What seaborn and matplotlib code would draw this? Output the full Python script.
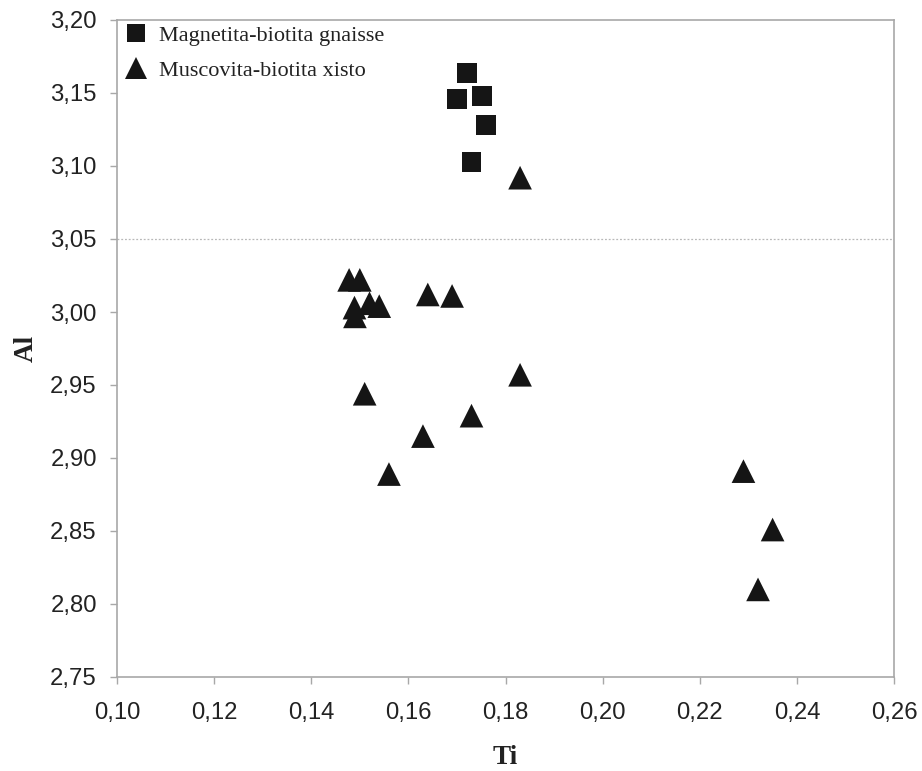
import matplotlib
matplotlib.use("Agg")
import matplotlib.pyplot as plt
from matplotlib.ticker import FuncFormatter, MultipleLocator
from matplotlib.lines import Line2D
import seaborn as sns
import pandas as pd

# Data
gnaisse_ti = [0.172, 0.170, 0.1752, 0.176, 0.173]
gnaisse_al = [3.164, 3.146, 3.148, 3.128, 3.103]

xisto_ti = [0.183, 0.1478, 0.150, 0.1489, 0.149, 0.152, 0.154, 0.164, 0.169,
            0.183, 0.151, 0.173, 0.163, 0.156, 0.229, 0.235, 0.232]
xisto_al = [3.092, 3.022, 3.022, 3.003, 2.997, 3.006, 3.004, 3.012, 3.011,
            2.957, 2.944, 2.929, 2.915, 2.889, 2.891, 2.851, 2.810]

label_g = "Magnetita-biotita gnaisse"
label_x = "Muscovita-biotita xisto"

df = pd.DataFrame({
    "Ti": gnaisse_ti + xisto_ti,
    "Al": gnaisse_al + xisto_al,
    "Tipo": [label_g] * len(gnaisse_ti) + [label_x] * len(xisto_ti),
})

sns.set_theme(style="white")
plt.rcParams["font.family"] = ["Liberation Sans", "DejaVu Sans"]

fig = plt.figure(figsize=(9.22, 7.71), dpi=100)
ax = fig.add_axes([117 / 922, 1 - 677 / 771, (894 - 117) / 922, (677 - 20) / 771])

mcolor = "#151515"
sns.scatterplot(
    data=df, x="Ti", y="Al", style="Tipo", size="Tipo",
    markers={label_g: "s", label_x: "^"},
    sizes={label_g: 205, label_x: 290},
    color=mcolor, linewidth=0, legend=False, ax=ax, zorder=3,
)

ax.axhline(3.05, color="#b8b8b8", linestyle=(0, (1.5, 1.5)), linewidth=0.9, zorder=1)

ax.set_xlim(0.10, 0.26)
ax.set_ylim(2.75, 3.20)
ax.xaxis.set_major_locator(MultipleLocator(0.02))
ax.yaxis.set_major_locator(MultipleLocator(0.05))
ax.xaxis.set_major_formatter(FuncFormatter(lambda v, p: f"{v:.2f}".replace(".", ",")))
ax.yaxis.set_major_formatter(FuncFormatter(lambda v, p: f"{v:.2f}".replace(".", ",")))

for s in ax.spines.values():
    s.set_color("#a8a8a8")
    s.set_linewidth(1.2)
ax.tick_params(axis="both", which="major", direction="out", length=5, width=1.0,
               color="#a8a8a8", labelsize=17.2, labelcolor="#222222",
               left=True, bottom=True)
ax.tick_params(axis="x", pad=13)
ax.tick_params(axis="y", pad=9.5)

serif = ["Liberation Serif", "DejaVu Serif"]
ax.set_xlabel("Ti", fontsize=19.5, fontweight="bold", family=serif, color="#222222", labelpad=15)
ax.set_ylabel("Al", fontsize=19.5, fontweight="bold", family=serif, color="#222222", labelpad=8)

handles = [
    Line2D([], [], marker="s", linestyle="none", color=mcolor, markersize=12.5, markeredgewidth=0),
    Line2D([], [], marker="^", linestyle="none", color=mcolor, markersize=15.5, markeredgewidth=0),
]
leg = ax.legend(handles, [label_g, label_x], loc="upper left", frameon=False,
                prop={"family": serif, "size": 16}, handlelength=1.0, handletextpad=0.57,
                labelspacing=0.66, borderaxespad=0, borderpad=0,
                bbox_to_anchor=(0.0097, 0.992))
for t in leg.get_texts():
    t.set_color("#222222")

fig.savefig("out.png", dpi=100, facecolor="white")
